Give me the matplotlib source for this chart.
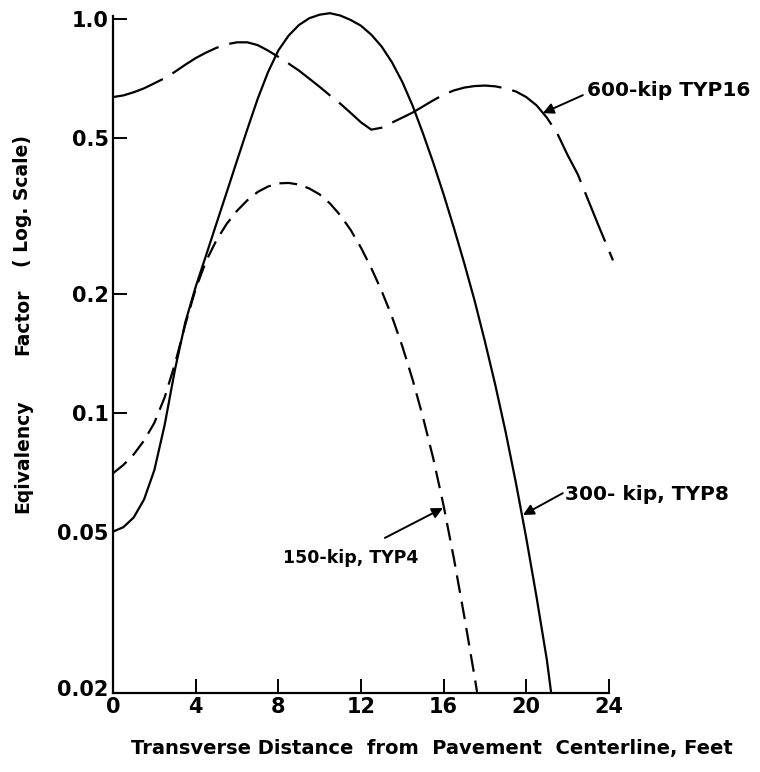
import matplotlib
matplotlib.use("Agg")
import matplotlib.pyplot as plt

# 300-kip, TYP8 (solid line)
x300 = [0, 0.5, 1.0, 1.5, 2.0, 2.5, 3.0, 3.5, 4.0, 4.5, 5.0, 5.5, 6.0, 6.5, 7.0, 7.5, 8.0,
        8.5, 9.0, 9.5, 10.0, 10.5, 11.0, 11.5, 12.0, 12.5, 13.0, 13.5, 14.0, 14.5, 15.0,
        15.5, 16.0, 16.5, 17.0, 17.5, 18.0, 18.5, 19.0, 19.5, 20.0, 20.5, 21.0, 21.2]
y300 = [0.0500, 0.0513, 0.0543, 0.0603, 0.0716, 0.0933, 0.129, 0.170, 0.209, 0.251,
        0.302, 0.363, 0.437, 0.525, 0.627, 0.733, 0.832, 0.908, 0.966, 1.005, 1.026,
        1.035, 1.021, 0.995, 0.962, 0.913, 0.852, 0.777, 0.693, 0.603, 0.513, 0.432,
        0.359, 0.295, 0.240, 0.193, 0.152, 0.118, 0.0897, 0.0665, 0.0482, 0.0341,
        0.0236, 0.0196]

# 150-kip, TYP4 (short dashes)
x150 = [0, 0.5, 1.0, 1.5, 2.0, 2.5, 3.0, 3.5, 4.0, 4.5, 5.0, 5.5, 6.0, 6.5, 7.0, 7.5, 8.0,
        8.5, 9.0, 9.5, 10.0, 10.5, 11.0, 11.5, 12.0, 12.5, 13.0, 13.5, 14.0, 14.5, 15.0,
        15.5, 16.0, 16.5, 17.0, 17.5, 17.62]
y150 = [0.0703, 0.0738, 0.0785, 0.0851, 0.0944, 0.1096, 0.1334, 0.1679, 0.2065, 0.2427,
        0.2742, 0.302, 0.326, 0.3467, 0.364, 0.3758, 0.3828, 0.3837, 0.3802, 0.3715,
        0.3589, 0.3404, 0.3177, 0.2917, 0.263, 0.2333, 0.2042, 0.1758, 0.1479, 0.1216,
        0.0977, 0.0767, 0.0582, 0.0427, 0.0305, 0.0214, 0.0196]

# 600-kip TYP16 (long dashes)
x600 = [0, 0.5, 1.0, 1.5, 2.0, 2.5, 3.0, 3.5, 4.0, 4.5, 5.0, 5.5, 6.0, 6.5, 7.0, 7.5, 8.0,
        8.5, 9.0, 9.5, 10.0, 10.5, 11.0, 11.5, 12.0, 12.5, 13.0, 13.5, 14.0, 14.5, 15.0,
        15.5, 16.0, 16.5, 17.0, 17.5, 18.0, 18.5, 19.0, 19.5, 20.0, 20.5, 21.0, 21.5,
        22.0, 22.5, 23.0, 23.5, 24.2]
y600 = [0.634, 0.640, 0.652, 0.667, 0.687, 0.708, 0.735, 0.766, 0.796, 0.822, 0.845,
        0.863, 0.873, 0.873, 0.859, 0.832, 0.802, 0.771, 0.740, 0.706, 0.673, 0.640,
        0.610, 0.578, 0.547, 0.524, 0.530, 0.546, 0.562, 0.579, 0.600, 0.622, 0.643,
        0.659, 0.670, 0.676, 0.678, 0.675, 0.667, 0.655, 0.634, 0.604, 0.562, 0.513,
        0.452, 0.403, 0.347, 0.299, 0.244]

xticks = [0, 4, 8, 12, 16, 20, 24]
yticks = [1.0, 0.5, 0.2, 0.1, 0.05, 0.02]
ylabels = ["1.0", "0.5", "0.2", "0.1", "0.05", "0.02"]

plt.rcParams['font.family'] = ['DejaVu Sans']
plt.rcParams['font.weight'] = 'bold'

fig = plt.figure(figsize=(7.6, 7.72), dpi=100)
ax = fig.add_axes([0.1487, 0.1027, 0.6606, 0.8834])

style = dict(color="black", lw=1.6, solid_joinstyle="round", dash_joinstyle="round")
ax.plot(x300, y300, **style)
ax.plot(x150, y150, dashes=(8, 4), **style)
ax.plot(x600, y600, dashes=(24, 5), clip_on=False, **style)

ax.set_yscale("log")
ax.set_xlim(0, 24.3)
ax.set_ylim(0.0195, 1.05)
ax.spines["top"].set_visible(False)
ax.spines["right"].set_visible(False)
ax.spines["bottom"].set_bounds(0, 24)
ax.spines["left"].set_bounds(0.0195, 1.02)
ax.spines["bottom"].set_linewidth(1.6)
ax.spines["left"].set_linewidth(1.6)

ax.set_xticks(xticks)
ax.set_xticklabels([str(t) for t in xticks])
ax.set_yticks(yticks)
ax.set_yticklabels(ylabels)
ax.minorticks_off()
ax.tick_params(axis="both", direction="in", length=10, width=1.4, labelsize=15, pad=3)
for t in ax.yaxis.get_major_ticks()[4:]:
    t.tick1line.set_visible(False)

fig.text(0.030, 1 - 456 / 772, "Eqivalency", rotation=90, ha="center", va="center",
         fontsize=13.5)
fig.text(0.030, 1 - 322 / 772, "Factor", rotation=90, ha="center", va="center",
         fontsize=13.5)
fig.text(0.030, 1 - 201 / 772, "( Log. Scale)", rotation=90, ha="center", va="center",
         fontsize=13.5)
fig.text(0.568, 0.031, "Transverse Distance  from  Pavement  Centerline, Feet",
         ha="center", va="center", fontsize=14)

arrow = dict(arrowstyle="-|>", color="black", lw=1.4, mutation_scale=16,
             shrinkA=0, shrinkB=0)
ax.text(22.93, 0.66, "600-kip TYP16", fontsize=14.5, va="center", ha="left")
ax.annotate("", xy=(20.80, 0.577), xytext=(22.74, 0.641), arrowprops=arrow,
            annotation_clip=False)
ax.text(21.87, 0.062, "300- kip, TYP8", fontsize=14.5, va="center", ha="left")
ax.annotate("", xy=(19.84, 0.0551), xytext=(21.77, 0.0626), arrowprops=arrow,
            annotation_clip=False)
ax.text(8.22, 0.0428, "150-kip, TYP4", fontsize=12.5, va="center", ha="left")
ax.annotate("", xy=(15.97, 0.0574), xytext=(13.16, 0.0482), arrowprops=arrow)

fig.savefig("out.png", dpi=100)
